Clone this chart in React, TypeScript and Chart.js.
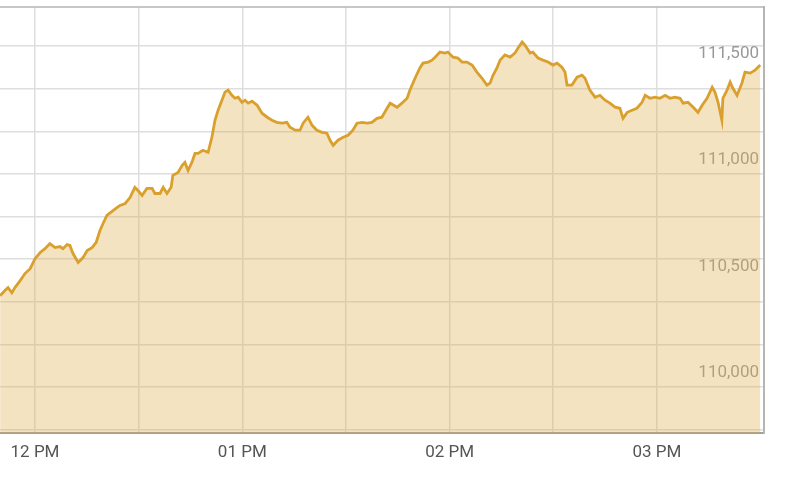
import React, { useEffect, useRef } from "react";
import { Chart, registerables } from "chart.js";

Chart.register(...registerables);

// minutes since midnight
const times = [
  709.9, 711.3, 712.2, 713.3, 714.2, 715.7, 717.1, 718.6, 720.0, 721.5, 722.9, 724.3, 725.8, 727.2, 728.1,
  729.3, 730.1, 731.0, 732.5, 733.9, 735.1, 736.5, 737.7, 738.8, 739.7, 740.8, 742.3, 743.7, 744.6, 746.1,
  747.5, 748.9, 749.8, 751.0, 752.4, 753.9, 754.7, 756.2, 757.1, 758.2, 759.4, 759.9, 761.4, 762.6, 763.4,
  764.3, 765.4, 766.3, 767.2, 768.6, 770.1, 771.2, 772.1, 773.0, 774.1, 775.0, 775.9, 777.0, 777.9, 778.8,
  779.9, 780.8, 781.7, 782.8, 784.3, 785.7, 787.2, 788.6, 790.0, 791.5, 792.9, 793.8, 795.3, 796.7, 797.6,
  799.0, 800.2, 801.6, 803.1, 804.5, 805.4, 806.3, 807.7, 809.2, 810.6, 812.0, 813.2, 814.7, 816.1, 817.5,
  819.0, 820.4, 821.9, 822.8, 824.8, 826.2, 827.7, 828.5, 830.0, 831.4, 832.3, 833.8, 834.9, 835.8, 837.2,
  838.7, 839.5, 841.0, 842.4, 843.6, 845.0, 846.5, 847.9, 849.4, 850.8, 851.7, 852.6, 853.7, 854.6, 856.0,
  857.5, 858.9, 859.8, 861.0, 861.8, 863.3, 864.1, 865.6, 867.0, 868.5, 869.9, 871.1, 872.5, 873.4, 874.0,
  875.4, 876.9, 878.3, 879.2, 880.6, 882.1, 883.5, 885.0, 886.4, 887.9, 889.3, 890.2, 891.4, 892.8, 894.2,
  895.7, 896.6, 898.0, 899.5, 900.9, 902.4, 903.8, 905.2, 906.7, 907.6, 909.0, 910.5, 911.9, 913.1, 914.5,
  916.0, 916.8, 917.7, 918.8, 919.1, 920.3, 921.2, 922.0, 923.2, 924.6, 925.5, 927.0, 928.4, 929.9,
];

const values = [
  110428, 110452, 110466, 110442, 110466, 110499, 110532, 110555, 110602, 110631, 110649, 110673, 110654, 110659, 110649,
  110668, 110664, 110626, 110584, 110607, 110640, 110654, 110678, 110734, 110767, 110805, 110824, 110842, 110852, 110861,
  110889, 110937, 110922, 110899, 110932, 110932, 110908, 110908, 110937, 110908, 110937, 110993, 111007, 111040, 111054,
  111016, 111054, 111096, 111096, 111111, 111101, 111172, 111252, 111299, 111346, 111384, 111393, 111369, 111355, 111360,
  111336, 111346, 111332, 111341, 111322, 111285, 111266, 111252, 111242, 111238, 111242, 111219, 111205, 111205, 111238,
  111266, 111228, 111205, 111195, 111191, 111158, 111134, 111158, 111172, 111181, 111205, 111238, 111242, 111238, 111242,
  111261, 111266, 111308, 111332, 111313, 111332, 111355, 111393, 111449, 111497, 111520, 111525, 111534, 111548, 111572,
  111567, 111572, 111548, 111544, 111525, 111525, 111511, 111478, 111449, 111417, 111426, 111464, 111497, 111534, 111558,
  111548, 111567, 111591, 111619, 111605, 111567, 111572, 111544, 111534, 111525, 111511, 111520, 111501, 111478, 111417,
  111417, 111454, 111464, 111449, 111393, 111360, 111369, 111346, 111332, 111313, 111308, 111261, 111289, 111299, 111308,
  111336, 111369, 111355, 111360, 111355, 111369, 111355, 111360, 111355, 111332, 111336, 111313, 111289, 111322, 111355,
  111407, 111384, 111336, 111252, 111355, 111393, 111431, 111402, 111369, 111426, 111478, 111473, 111487, 111511,
];

const xMin = 709.87;
const xMax = 931.0;
const yMin = 109783.5;
const yMax = 111783.5;

const xTickValues = [720, 750, 780, 810, 840, 870, 900];
const xTickLabels: Record<number, string> = { 720: "12 PM", 780: "01 PM", 840: "02 PM", 900: "03 PM" };
const yGridStep = 200;
const yLabelStep = 500;

const frameTop = {
  id: "frameTop",
  afterDraw(chart: any) {
    const { ctx, chartArea } = chart;
    ctx.save();
    ctx.strokeStyle = "#b5b5b5";
    ctx.lineWidth = 1.5;
    ctx.beginPath();
    ctx.moveTo(chartArea.left, chartArea.top);
    ctx.lineTo(chartArea.right, chartArea.top);
    ctx.stroke();
    ctx.restore();
  },
};

export default function App() {
  const ref = useRef<HTMLCanvasElement | null>(null);

  useEffect(() => {
    if (!ref.current) return;
    const pts = times.map((t, i) => ({ x: t, y: values[i] }));
    const chart = new Chart(ref.current, {
      type: "line",
      data: {
        datasets: [
          {
            data: pts,
            borderColor: "#d9a02e",
            borderWidth: 2.8,
            backgroundColor: "rgba(220,175,75,0.35)",
            fill: "start",
            pointRadius: 0,
            tension: 0,
          },
        ],
      },
      plugins: [frameTop],
      options: {
        responsive: false,
        animation: false,
        layout: { autoPadding: false, padding: { top: 7, right: 36, bottom: 6.6, left: 0 } },
        plugins: { legend: { display: false }, tooltip: { enabled: false } },
        scales: {
          x: {
            type: "linear",
            min: xMin,
            max: xMax,
            afterBuildTicks: (axis: any) => {
              axis.ticks = xTickValues.map((v) => ({ value: v }));
            },
            grid: { color: "#dedede", lineWidth: 1.5, drawTicks: false, tickLength: 0 },
            border: { display: true, color: "#a0a0a0", width: 2 },
            ticks: {
              autoSkip: false,
              maxRotation: 0,
              padding: 10,
              color: "#555",
              font: { family: "Roboto", size: 17 },
              callback: (v: any) => xTickLabels[v] ?? "",
            },
          },
          y: {
            type: "linear",
            position: "right",
            min: yMin,
            max: yMax,
            afterBuildTicks: (axis: any) => {
              const t: any[] = [];
              for (let v = Math.ceil(yMin / 100) * 100; v <= yMax; v += 100) t.push({ value: v });
              axis.ticks = t;
            },
            grid: {
              drawTicks: false,
              tickLength: 0,
              lineWidth: 1.5,
              color: (ctx: any) => (ctx.tick && ctx.tick.value % yGridStep === 0 ? "#dedede" : "rgba(0,0,0,0)"),
            },
            border: { display: true, color: "#b5b5b5", width: 2 },
            ticks: {
              mirror: true,
              autoSkip: false,
              padding: -5,
              labelOffset: -14,
              color: "#999",
              font: { family: "Roboto", size: 17 },
              callback: (v: any) => (v % yLabelStep === 0 ? Number(v).toLocaleString("en-US") : ""),
            },
          },
        },
      },
    });
    return () => chart.destroy();
  }, []);

  return (
    <div style={{ position: "absolute", left: 0, top: 0, width: 800, height: 480, background: "#fff" }}>
      <canvas ref={ref} width={800} height={480} style={{ display: "block" }} />
    </div>
  );
}
